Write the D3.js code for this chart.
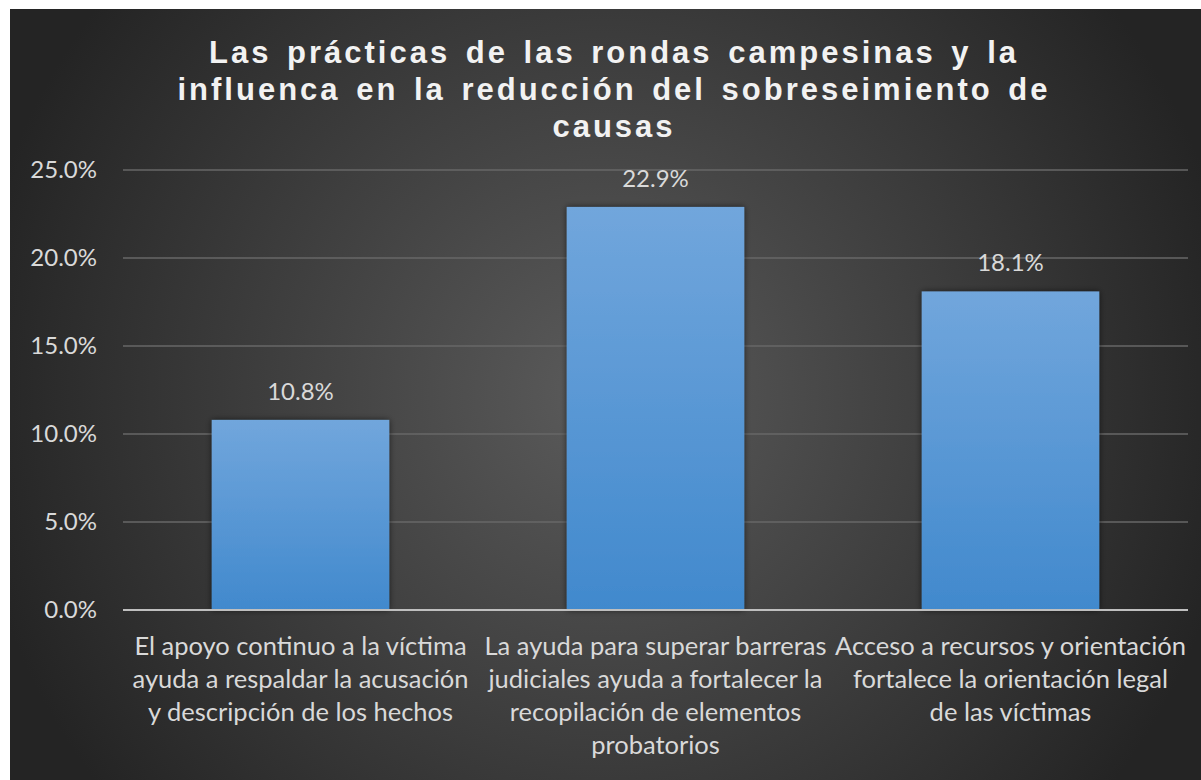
<!DOCTYPE html>
<html lang="es">
<head>
<meta charset="utf-8">
<title>Rondas campesinas</title>
<script src="https://cdn.jsdelivr.net/npm/d3@7/dist/d3.min.js"></script>
<style>
  body { margin: 0; background: #fff; }
  svg { display: block; }
  .tick text { font-family: Lato, "Open Sans", sans-serif; }
</style>
</head>
<body>
<svg width="1201" height="780"></svg>
<script>
// data
var titleLines = [
  "Las prácticas de las rondas campesinas y la",
  "influenca en la reducción del sobreseimiento de",
  "causas"
];
var categories = ["c1", "c2", "c3"];
var catLabels = [
  ["El apoyo continuo a la víctima", "ayuda a respaldar la acusación", "y descripción de los hechos"],
  ["La ayuda para superar barreras", "judiciales ayuda a fortalecer la", "recopilación de elementos", "probatorios"],
  ["Acceso a recursos y orientación", "fortalece la orientación legal", "de las víctimas"]
];
var values = [10.8, 22.9, 18.1];
var yTicks = [0, 5, 10, 15, 20, 25];

var svg = d3.select("svg");

var defs = svg.append("defs");
var bg = defs.append("radialGradient").attr("id", "bg")
    .attr("gradientUnits", "userSpaceOnUse")
    .attr("cx", 605).attr("cy", 395).attr("r", 640);
bg.append("stop").attr("offset", "0%").attr("stop-color", "#5b5b5b");
bg.append("stop").attr("offset", "100%").attr("stop-color", "#242424");

var barGrad = defs.append("linearGradient").attr("id", "bar")
    .attr("x1", 0).attr("y1", 0).attr("x2", 0).attr("y2", 1);
barGrad.append("stop").attr("offset", "0%").attr("stop-color", "#71a6dc");
barGrad.append("stop").attr("offset", "100%").attr("stop-color", "#4189cd");

var shadow = defs.append("filter").attr("id", "shadow")
    .attr("x", "-10%").attr("y", "-10%").attr("width", "120%").attr("height", "120%");
shadow.append("feGaussianBlur").attr("in", "SourceAlpha").attr("stdDeviation", 3);
shadow.append("feOffset").attr("dx", 0).attr("dy", 0).attr("result", "b");
shadow.append("feComponentTransfer").append("feFuncA").attr("type", "linear").attr("slope", 0.6);
var merge = shadow.append("feMerge");
merge.append("feMergeNode");
merge.append("feMergeNode").attr("in", "SourceGraphic");

svg.append("rect")
    .attr("x", 10).attr("y", 9)
    .attr("width", 1191).attr("height", 771)
    .attr("fill", "url(#bg)");

// title
svg.append("text")
    .attr("x", 614)
    .attr("text-anchor", "middle")
    .attr("fill", "#f2f2f2")
    .attr("font-family", "'Liberation Sans', Arial, sans-serif")
    .attr("font-weight", "bold")
    .attr("font-size", 31)
    .attr("letter-spacing", 3)
    .attr("word-spacing", 4)
  .selectAll("tspan")
  .data(titleLines)
  .enter().append("tspan")
    .attr("x", 614)
    .attr("y", function(d, i) { return 63 + i * 37; })
    .text(function(d) { return d; });

var x = d3.scaleBand()
    .domain(categories)
    .range([123, 1188])
    .paddingInner(0.5)
    .paddingOuter(0.25);

var y = d3.scaleLinear()
    .domain([0, 25])
    .range([610, 170]);

// gridlines
svg.append("g")
    .selectAll("line")
    .data(yTicks.slice(1))
    .enter().append("line")
    .attr("x1", 123).attr("x2", 1188)
    .attr("y1", function(d) { return y(d); })
    .attr("y2", function(d) { return y(d); })
    .attr("stroke", "#676767")
    .attr("stroke-width", 1.5);

// y axis labels
var yAxis = svg.append("g")
    .attr("transform", "translate(123,0)")
    .call(d3.axisLeft(y)
      .tickValues(yTicks)
      .tickSize(0)
      .tickPadding(26)
      .tickFormat(function(d) { return d.toFixed(1) + "%"; }));
yAxis.select(".domain").remove();
yAxis.selectAll("text")
    .attr("fill", "#d9d9d9")
    .attr("font-size", 24);

// bars
svg.append("g")
    .selectAll("rect")
    .data(values)
    .enter().append("rect")
    .attr("x", function(d, i) { return x(categories[i]); })
    .attr("y", function(d) { return y(d); })
    .attr("width", x.bandwidth())
    .attr("height", function(d) { return y(0) - y(d); })
    .attr("fill", "url(#bar)")
    .attr("filter", "url(#shadow)");

// value labels
svg.append("g")
    .selectAll("text")
    .data(values)
    .enter().append("text")
    .attr("x", function(d, i) { return x(categories[i]) + x.bandwidth() / 2; })
    .attr("y", function(d) { return y(d) - 20; })
    .attr("text-anchor", "middle")
    .attr("fill", "#d9d9d9")
    .attr("font-family", "Lato, 'Open Sans', sans-serif")
    .attr("font-size", 24)
    .text(function(d) { return d.toFixed(1) + "%"; });

// baseline
svg.append("line")
    .attr("x1", 123).attr("x2", 1188)
    .attr("y1", y(0)).attr("y2", y(0))
    .attr("stroke", "#bfbfbf")
    .attr("stroke-width", 2);

// category labels
var cat = svg.append("g")
    .selectAll("text")
    .data(catLabels)
    .enter().append("text")
    .attr("text-anchor", "middle")
    .attr("fill", "#d9d9d9")
    .attr("font-family", "Lato, 'Open Sans', sans-serif")
    .attr("font-size", 25.5);
cat.selectAll("tspan")
    .data(function(d, i) { return d.map(function(t) { return { t: t, i: i }; }); })
    .enter().append("tspan")
    .attr("x", function(d) { return x(categories[d.i]) + x.bandwidth() / 2; })
    .attr("y", function(d, j) { return 655 + j * 33; })
    .text(function(d) { return d.t; });
</script>
</body>
</html>
